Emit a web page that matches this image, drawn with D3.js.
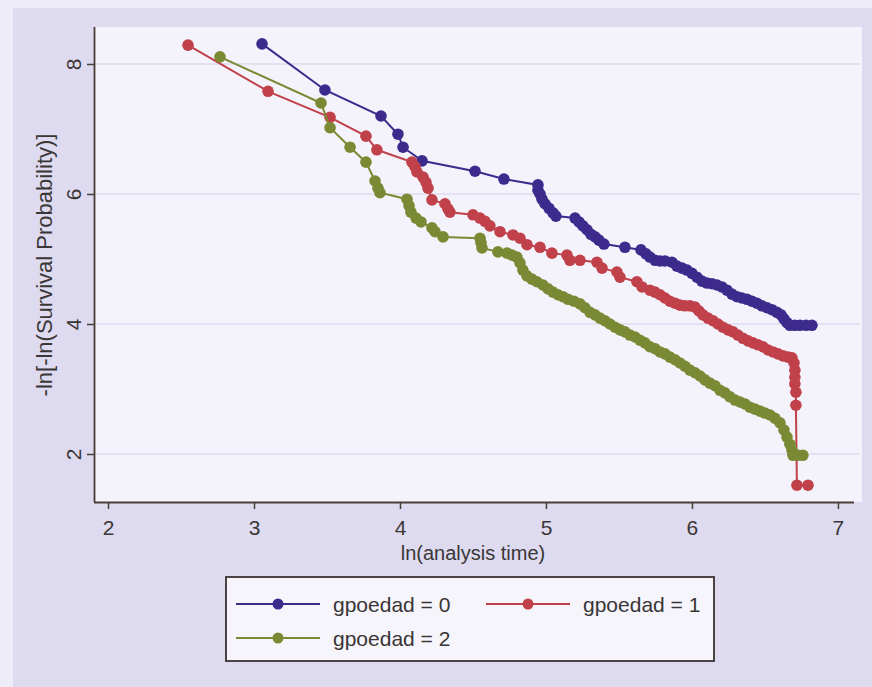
<!DOCTYPE html>
<html><head><meta charset="utf-8">
<script src="https://cdn.jsdelivr.net/npm/d3@7"></script>
<style>
html,body{margin:0;padding:0;background:#eeecf7;}
svg{display:block;font-family:"Liberation Sans",Arial,sans-serif;}
</style></head><body>
<svg id="chart" width="872" height="687"></svg>
<script>
// ---- data ----
const seriesNames = ["gpoedad = 0", "gpoedad = 1", "gpoedad = 2"];
const xTicks = [2, 3, 4, 5, 6, 7];
const yTicks = [2, 4, 6, 8];
const xTitle = "ln(analysis time)";
const yTitle = "-ln[-ln(Survival Probability)]";

const g0x = [3.055,3.486,3.870,3.986,4.021,4.151,4.514,4.712,4.945,4.945,4.959,4.973,4.993,5.021,5.048,5.068,5.199,5.226,5.253,5.281,5.308,5.336,5.363,5.397,5.541,5.651,5.685,5.712,5.747,5.781,5.815,5.863,5.897,5.932,5.966,6.000,6.034,6.068,6.103,6.137,6.171,6.205,6.240,6.274,6.308,6.342,6.377,6.411,6.445,6.479,6.514,6.548,6.582,6.610,6.630,6.651,6.671,6.705,6.740,6.781,6.822];
const g0y = [8.31,7.60,7.20,6.92,6.72,6.51,6.35,6.23,6.14,6.06,6.00,5.92,5.85,5.78,5.71,5.66,5.63,5.57,5.51,5.45,5.38,5.34,5.29,5.23,5.18,5.14,5.08,5.03,4.98,4.97,4.97,4.95,4.89,4.86,4.83,4.78,4.72,4.66,4.63,4.62,4.60,4.57,4.52,4.46,4.42,4.40,4.38,4.35,4.32,4.28,4.25,4.22,4.18,4.14,4.08,4.02,3.98,3.98,3.98,3.98,3.98];

const g1x = [2.548,3.096,3.521,3.767,3.842,4.082,4.103,4.116,4.158,4.178,4.192,4.219,4.308,4.329,4.342,4.500,4.548,4.582,4.616,4.685,4.774,4.822,4.870,4.959,5.041,5.144,5.164,5.233,5.349,5.384,5.486,5.507,5.623,5.658,5.712,5.747,5.781,5.815,5.849,5.884,5.918,5.952,5.986,6.021,6.048,6.075,6.110,6.144,6.178,6.212,6.247,6.281,6.315,6.349,6.384,6.418,6.452,6.486,6.521,6.555,6.589,6.623,6.658,6.685,6.699,6.705,6.705,6.705,6.712,6.712,6.719,6.795];
const g1y = [8.29,7.58,7.18,6.89,6.68,6.49,6.42,6.34,6.26,6.18,6.09,5.91,5.85,5.77,5.72,5.68,5.63,5.58,5.51,5.42,5.37,5.32,5.22,5.18,5.09,5.06,4.98,4.98,4.95,4.86,4.80,4.72,4.65,4.57,4.52,4.49,4.45,4.40,4.35,4.32,4.29,4.28,4.28,4.26,4.20,4.14,4.09,4.05,4.00,3.95,3.91,3.88,3.83,3.78,3.74,3.71,3.68,3.65,3.60,3.57,3.54,3.51,3.49,3.48,3.40,3.29,3.18,3.08,2.95,2.75,1.52,1.52];

const g2x = [2.767,3.459,3.521,3.658,3.767,3.829,3.849,3.863,4.048,4.062,4.075,4.110,4.144,4.219,4.240,4.295,4.548,4.555,4.562,4.671,4.733,4.767,4.801,4.822,4.842,4.870,4.904,4.938,4.979,5.014,5.048,5.082,5.116,5.151,5.192,5.233,5.267,5.301,5.336,5.370,5.404,5.438,5.473,5.507,5.541,5.575,5.610,5.644,5.678,5.712,5.747,5.781,5.815,5.849,5.884,5.918,5.952,5.986,6.021,6.055,6.089,6.123,6.158,6.192,6.226,6.260,6.295,6.329,6.363,6.397,6.432,6.466,6.500,6.534,6.568,6.603,6.630,6.651,6.671,6.685,6.692,6.726,6.760];
const g2y = [8.11,7.40,7.02,6.72,6.49,6.20,6.09,6.02,5.92,5.82,5.72,5.63,5.57,5.48,5.42,5.34,5.32,5.25,5.17,5.11,5.09,5.06,5.03,4.94,4.83,4.74,4.69,4.65,4.60,4.54,4.49,4.45,4.42,4.38,4.35,4.31,4.25,4.18,4.14,4.09,4.05,4.00,3.95,3.91,3.88,3.83,3.80,3.75,3.71,3.65,3.62,3.57,3.54,3.49,3.45,3.40,3.35,3.29,3.25,3.20,3.14,3.09,3.05,2.98,2.94,2.88,2.83,2.80,2.77,2.72,2.69,2.66,2.63,2.60,2.55,2.48,2.37,2.26,2.15,2.06,1.98,1.98,1.98];

const colors = ["#3c2b8c", "#c1414b", "#7a8a34"];

// ---- build ----
const series = [
  {name: seriesNames[0], xs: g0x, ys: g0y, color: colors[0]},
  {name: seriesNames[1], xs: g1x, ys: g1y, color: colors[1]},
  {name: seriesNames[2], xs: g2x, ys: g2y, color: colors[2]}
].map(s => ({...s, pts: s.xs.map((x, i) => ({x, y: s.ys[i]}))}));

const svg = d3.select("#chart");
const W = 872, H = 687;
const plot = {left: 94, right: 854, top: 27, bottom: 502};
const textColor = "#3a3636";
const axisColor = "#4a3c36";
const fontFam = "Liberation Sans, Arial, sans-serif";

// outer graph region
svg.append("rect").attr("x", 0).attr("y", 0).attr("width", W).attr("height", H).attr("fill", "#eeecf7");
svg.append("rect").attr("x", 13).attr("y", 8).attr("width", W - 13).attr("height", H - 8).attr("fill", "#dedbf0");
// plot region
svg.append("rect").attr("x", plot.left).attr("y", plot.top).attr("width", 862 - plot.left).attr("height", plot.bottom - plot.top).attr("fill", "#f4f2fb");

const x = d3.scaleLinear().domain([1.904, 7.11]).range([plot.left, plot.right]);
const y = d3.scaleLinear().domain([2, 8]).range([454, 64]);

// gridlines
svg.append("g").selectAll("line").data(yTicks).join("line")
  .attr("x1", plot.left).attr("x2", 860)
  .attr("y1", d => y(d)).attr("y2", d => y(d))
  .attr("stroke", "#d3cfe9").attr("stroke-width", 1.2);

// axes
const xAxis = svg.append("g").attr("transform", `translate(0,${plot.bottom})`)
  .call(d3.axisBottom(x).tickValues(xTicks).tickFormat(d3.format("d")).tickSize(7).tickSizeOuter(0));
xAxis.select(".domain").attr("d", `M${plot.left},0.5H${plot.right}`);
const yAxis = svg.append("g").attr("transform", `translate(${plot.left},0)`)
  .call(d3.axisLeft(y).tickValues(yTicks).tickFormat(d3.format("d")).tickSize(7).tickSizeOuter(0));
yAxis.select(".domain").attr("d", `M0.5,${plot.top}V${plot.bottom}`);
[xAxis, yAxis].forEach(a => {
  a.selectAll(".domain").attr("stroke", axisColor).attr("stroke-width", 1.8);
  a.selectAll(".tick line").attr("stroke", axisColor).attr("stroke-width", 1.5);
  a.selectAll(".tick text").attr("fill", textColor).attr("font-size", 21)
    .attr("font-family", fontFam);
});
xAxis.selectAll(".tick text").attr("dy", null).attr("y", 33);
yAxis.selectAll(".tick text")
  .attr("x", null).attr("dy", null)
  .attr("transform", "translate(-21,0) rotate(-90)")
  .attr("text-anchor", "middle").attr("y", 0).attr("dominant-baseline", "central");

// axis titles
svg.append("text").attr("x", 473).attr("y", 560).attr("text-anchor", "middle")
  .attr("font-size", 20).attr("font-family", fontFam).attr("fill", textColor).text(xTitle);
svg.append("text").attr("transform", "translate(44,265) rotate(-90)").attr("text-anchor", "middle")
  .attr("dominant-baseline", "central")
  .attr("font-size", 22).attr("font-family", fontFam).attr("fill", textColor).text(yTitle);

// series
const line = d3.line().x(d => x(d.x)).y(d => y(d.y));
series.forEach(s => {
  const g = svg.append("g");
  g.append("path").datum(s.pts).attr("d", line).attr("fill", "none")
    .attr("stroke", s.color).attr("stroke-width", 2);
  g.selectAll("circle").data(s.pts).join("circle")
    .attr("cx", d => x(d.x)).attr("cy", d => y(d.y)).attr("r", 5.8).attr("fill", s.color);
});

// legend
const lg = svg.append("g");
lg.append("rect").attr("x", 226).attr("y", 577).attr("width", 488).attr("height", 84)
  .attr("fill", "#f6f5fc").attr("stroke", "#3a3030").attr("stroke-width", 1.8);
const legPos = [[236, 604], [486, 604], [236, 638]];
series.forEach((s, i) => {
  const [lx, ly] = legPos[i];
  lg.append("line").attr("x1", lx).attr("x2", lx + 84).attr("y1", ly).attr("y2", ly)
    .attr("stroke", s.color).attr("stroke-width", 2);
  lg.append("circle").attr("cx", lx + 42).attr("cy", ly).attr("r", 5.5).attr("fill", s.color);
  lg.append("text").attr("x", lx + 97).attr("y", ly).attr("dominant-baseline", "central")
    .attr("font-size", 21).attr("font-family", fontFam).attr("fill", textColor).text(s.name);
});
</script>
</body></html>
